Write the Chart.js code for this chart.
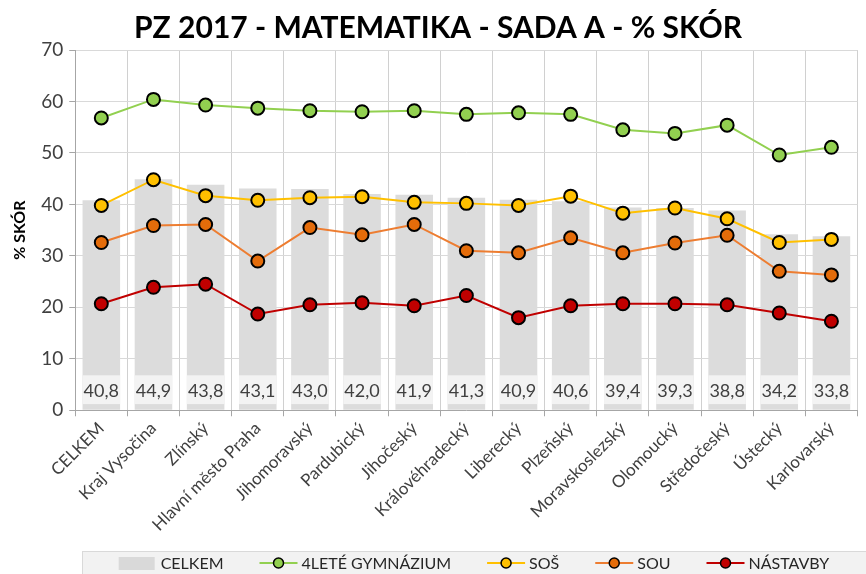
<!DOCTYPE html>
<html><head><meta charset="utf-8">
<script src="https://cdn.jsdelivr.net/npm/chart.js@4"></script>
<style>html,body{margin:0;padding:0;background:#fff}#wrap{width:866px;height:574px}</style>
</head><body><div id="wrap"><canvas id="c" width="866" height="574"></canvas></div>
<script>
const categories = ["CELKEM","Kraj Vysočina","Zlínský","Hlavní město Praha","Jihomoravský","Pardubický","Jihočeský","Královéhradecký","Liberecký","Plzeňský","Moravskoslezský","Olomoucký","Středočeský","Ústecký","Karlovarský"];
const celkem = [40.8,44.9,43.8,43.1,43.0,42.0,41.9,41.3,40.9,40.6,39.4,39.3,38.8,34.2,33.8];
const gymnazium = [56.8,60.4,59.3,58.7,58.2,58.0,58.2,57.5,57.8,57.5,54.5,53.8,55.4,49.6,51.1];
const sos = [39.8,44.8,41.7,40.8,41.3,41.5,40.4,40.2,39.8,41.6,38.3,39.3,37.2,32.6,33.2];
const sou = [32.6,35.9,36.1,29.0,35.5,34.1,36.1,31.0,30.6,33.5,30.6,32.5,34.0,27.0,26.3];
const nastavby = [20.7,23.9,24.5,18.7,20.5,20.9,20.3,22.3,18.0,20.3,20.7,20.7,20.5,18.9,17.3];
const yTicks = [0,10,20,30,40,50,60,70];
const seriesNames = ["CELKEM","4LETÉ GYMNÁZIUM","SOŠ","SOU","NÁSTAVBY"];

const FONT = "Lato, 'Open Sans', sans-serif";

function lineDs(label, data, lineColor, fillColor){
  return {type:'line', label, data, borderColor:lineColor, backgroundColor:fillColor,
    pointBackgroundColor:fillColor, pointBorderColor:'#000', pointBorderWidth:2,
    pointRadius:6.5, pointHoverRadius:6.5, borderWidth:2, tension:0, order:1};
}

const barLabelPlugin = {
  id:'barLabels',
  afterDatasetsDraw(chart){
    const ctx = chart.ctx, meta = chart.getDatasetMeta(0), ys = chart.scales.y;
    ctx.save();
    const top = ys.getPixelForValue(6.8), bot = ys.getPixelForValue(1.2);
    meta.data.forEach((bar, i) => {
      const w = bar.width;
      ctx.fillStyle = 'rgba(244,244,244,0.92)';
      ctx.fillRect(bar.x - w/2, top, w, bot - top);
      ctx.fillStyle = '#404040';
      ctx.font = "18px " + FONT;
      ctx.textAlign = 'center'; ctx.textBaseline = 'middle';
      ctx.fillText(celkem[i].toFixed(1).replace('.', ','), bar.x, (top+bot)/2+1);
    });
    ctx.restore();
  }
};

const legendPlugin = {
  id:'customLegend',
  afterDraw(chart){
    const ctx = chart.ctx;
    ctx.save();
    const boxL = 82, boxT = 551, boxR = 866, boxB = 580;
    ctx.fillStyle = '#f2f2f2';
    ctx.fillRect(boxL, boxT, boxR-boxL, boxB-boxT);
    ctx.strokeStyle = '#d9d9d9'; ctx.lineWidth = 1;
    ctx.strokeRect(boxL+0.5, boxT+0.5, boxR-boxL, boxB-boxT);
    ctx.font = "16px " + FONT;
    ctx.textBaseline = 'middle';
    const symW = 38, gapSym = 4, gapItem = 36;
    const ds = chart.data.datasets;
    let total = 0;
    seriesNames.forEach((n)=>{ total += symW + gapSym + ctx.measureText(n).width; });
    total += gapItem * (seriesNames.length-1);
    let x = (boxL + boxR)/2 - total/2;
    const cy = 563;
    seriesNames.forEach((n, i) => {
      const d = ds[i];
      if (i === 0){
        ctx.fillStyle = '#d9d9d9';
        ctx.fillRect(x, cy-6, symW-2, 13);
      } else {
        ctx.strokeStyle = d.borderColor; ctx.lineWidth = 2;
        ctx.beginPath(); ctx.moveTo(x, cy); ctx.lineTo(x+symW, cy); ctx.stroke();
        ctx.beginPath(); ctx.arc(x+symW/2, cy, 5, 0, Math.PI*2);
        ctx.fillStyle = d.pointBackgroundColor; ctx.fill();
        ctx.strokeStyle = '#000'; ctx.lineWidth = 1.5; ctx.stroke();
      }
      x += symW + gapSym;
      ctx.fillStyle = '#262626'; ctx.textAlign = 'left';
      ctx.fillText(n, x, cy+1);
      x += ctx.measureText(n).width + gapItem;
    });
    ctx.restore();
  }
};

new Chart(document.getElementById('c'), {
  data:{
    labels:categories,
    datasets:[
      {type:'bar', label:seriesNames[0], data:celkem, backgroundColor:'#dcdcdc', borderWidth:0,
        barPercentage:0.72, categoryPercentage:1.0, order:5},
      lineDs(seriesNames[1], gymnazium, '#92d050', '#92d050'),
      lineDs(seriesNames[2], sos, '#ffc000', '#ffc000'),
      lineDs(seriesNames[3], sou, '#ed7d31', '#e46c0a'),
      lineDs(seriesNames[4], nastavby, '#c00000', '#c00000')
    ]
  },
  options:{
    responsive:false, animation:false,
    layout:{padding:{left:10, right:0, top:2, bottom:37}},
    plugins:{
      legend:{display:false}, tooltip:{enabled:false},
      title:{display:true, text:'PZ 2017 - MATEMATIKA - SADA A - % SKÓR', color:'#000',
        font:{family:FONT, size:30, weight:'bold'}, padding:{top:8, bottom:4}}
    },
    scales:{
      x:{offset:true,
        grid:{offset:true, color:'#d0d0d0', lineWidth:1, drawTicks:true, tickLength:6, tickColor:'#a6a6a6'},
        border:{color:'#a6a6a6'},
        ticks:{maxRotation:45, minRotation:45, color:'#404040', font:{family:FONT, size:17}, padding:2}
      },
      y:{min:0, max:70,
        afterBuildTicks(s){ s.ticks = yTicks.map(v=>({value:v})); },
        grid:{color:'#d9d9d9', tickLength:6, tickColor:'#a6a6a6'},
        border:{color:'#a6a6a6'},
        ticks:{color:'#404040', font:{family:FONT, size:19}, padding:6},
        title:{display:true, text:'% SKÓR', color:'#000', font:{family:FONT, size:16, weight:'bold'}, padding:{top:0,bottom:6}}
      }
    }
  },
  plugins:[barLabelPlugin, legendPlugin]
});
</script></body></html>
